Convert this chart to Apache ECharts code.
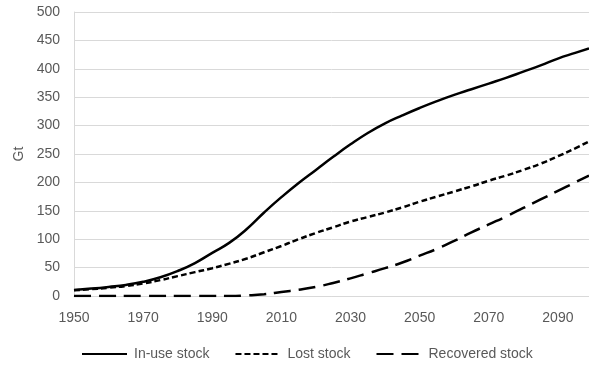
<!DOCTYPE html>
<html>
<head>
<meta charset="utf-8">
<script src="https://cdn.jsdelivr.net/npm/echarts@6/dist/echarts.min.js"></script>
<style>html,body{margin:0;padding:0;background:#fff}#c{width:589px;height:367px}</style>
</head>
<body>
<div id="c"></div>
<script>
const years = [1950,1955,1960,1965,1970,1975,1980,1985,1990,1995,2000,2005,2010,2015,2020,2025,2030,2035,2040,2045,2050,2055,2060,2065,2070,2075,2080,2085,2090,2095,2099];
const inUse = [10.5,13,16,19.5,25,33,44,58,76,94,118,147,174,199,222,245,267,287,304,318,331,343,354,364,374,384,395,406,418,428,436];
const lost = [10,12,14.5,17.5,22,28,35,42,49,57,66,77,88,100,111,121,131,139,147,156,166,175,184,193,203,212,222,233,246,260,272];
const recovered = [0,0,0,0,0,0,0,0,0,0,1,3,7,11,16,23,31,40,49,59,71,83,97,112,126,140,155,170,185,200,212];
const seriesNames = ['In-use stock','Lost stock','Recovered stock'];
const yName = 'Gt';

const pair = arr => years.map((y,i)=>[y,arr[i]]);
const font = 'Liberation Sans';
const txt = '#595959';
const chart = echarts.init(document.getElementById('c'));
chart.setOption({
  animation:false,
  backgroundColor:'#fff',
  grid:{left:74,right:0,top:12,bottom:71},
  legend:{
    bottom:1,left:76,
    itemWidth:45,itemHeight:14,itemGap:25,
    itemStyle:{opacity:0,borderWidth:0},
    textStyle:{color:txt,fontFamily:font,fontSize:14,padding:[0,0,0,2]},
    data:seriesNames
  },
  xAxis:{
    type:'value',min:1950,max:2099,interval:20,
    axisLine:{show:true,lineStyle:{color:'#d9d9d9'}},
    axisTick:{show:false},
    splitLine:{show:false},
    axisLabel:{color:txt,fontFamily:font,fontSize:14,margin:15,showMaxLabel:false,formatter:v=>String(v)}
  },
  yAxis:{
    type:'value',min:0,max:500,interval:50,
    name:yName,nameLocation:'middle',nameGap:44,
    nameTextStyle:{color:txt,fontFamily:font,fontSize:14},
    axisLine:{show:true,lineStyle:{color:'#d9d9d9'}},
    axisTick:{show:false},
    splitLine:{lineStyle:{color:'#d9d9d9'}},
    axisLabel:{color:txt,fontFamily:font,fontSize:14,margin:14}
  },
  series:[
    {name:seriesNames[0],type:'line',smooth:true,symbol:'none',data:pair(inUse),lineStyle:{color:'#000',width:2.5,type:'solid'},itemStyle:{color:'#000'}},
    {name:seriesNames[1],type:'line',smooth:true,symbol:'none',data:pair(lost),lineStyle:{color:'#000',width:2.5,type:[6,3]},itemStyle:{color:'#000'}},
    {name:seriesNames[2],type:'line',smooth:true,symbol:'none',data:pair(recovered),lineStyle:{color:'#000',width:2.5,type:[17,8]},itemStyle:{color:'#000'}}
  ]
});
</script>
</body>
</html>
